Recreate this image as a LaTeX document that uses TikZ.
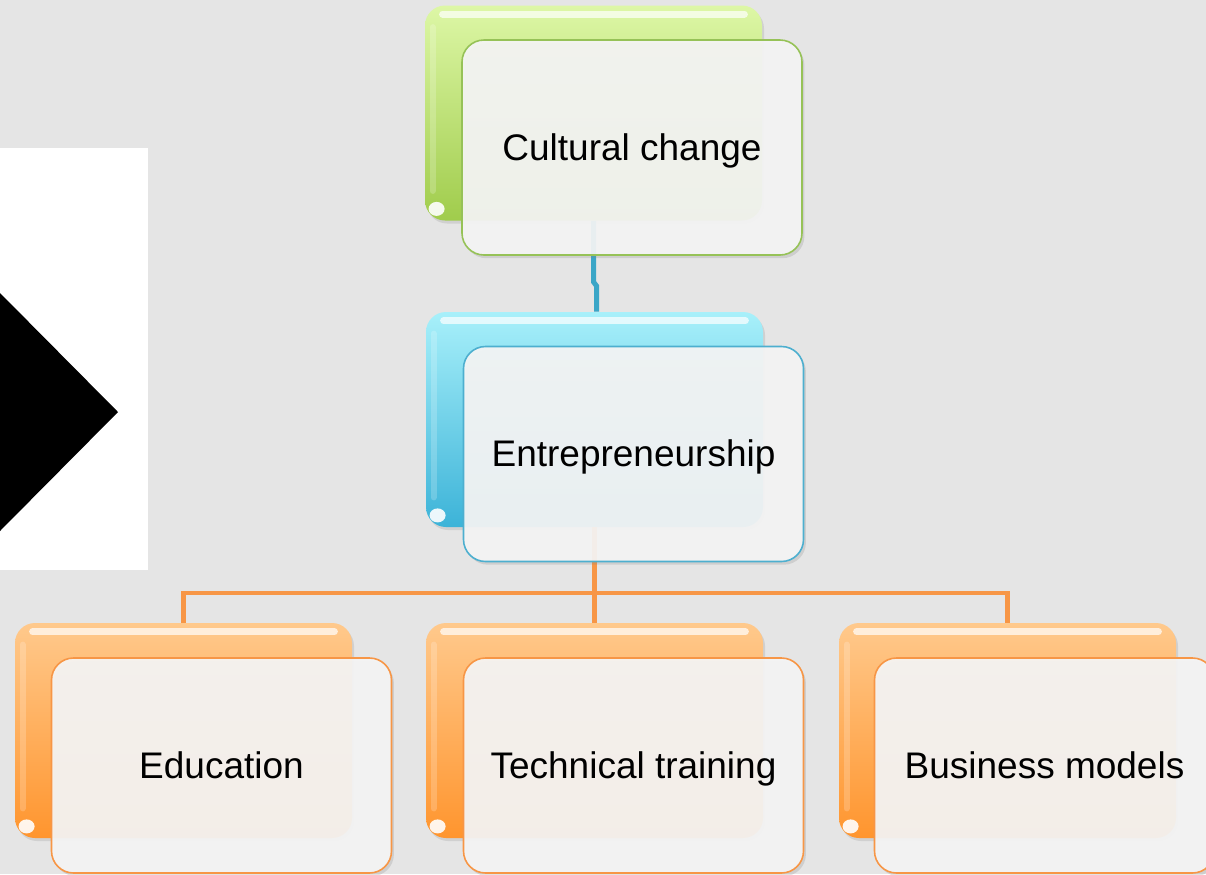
\documentclass[tikz,border=0pt]{standalone}
\usepackage{fontspec}
\setmainfont{Liberation Sans}
\usetikzlibrary{calc,shadows}
\definecolor{bgc}{HTML}{E5E5E5}
\definecolor{gtop}{HTML}{DDF7A6}
\definecolor{gbot}{HTML}{A0CC4C}
\definecolor{gedge}{HTML}{96C257}
\definecolor{btop}{HTML}{A8F0FA}
\definecolor{bbot}{HTML}{3CB3D8}
\definecolor{bedge}{HTML}{4DAFCF}
\definecolor{otop}{HTML}{FFC98C}
\definecolor{obot}{HTML}{FF952E}
\definecolor{oedge}{HTML}{F79646}
\definecolor{blueln}{HTML}{3AA6C7}
\definecolor{frontfill}{HTML}{F5F5F5}
\tikzset{
  backbox/.style={rectangle, rounded corners=10pt, minimum width=168.5pt, minimum height=107.5pt, inner sep=0pt,
     drop shadow={opacity=0.2, shadow xshift=1pt, shadow yshift=-1.5pt}},
  frontbox/.style={rectangle, rounded corners=11pt, minimum width=170pt, minimum height=107.5pt, inner sep=0pt,
     fill=frontfill, fill opacity=0.93, text opacity=1, line width=0.8pt,
     font=\fontsize{18.5pt}{22pt}\selectfont, text height=16.5pt, text depth=4pt,
     drop shadow={opacity=0.22, shadow xshift=1.2pt, shadow yshift=-1.6pt}},
  hl/.style={white, line width=3.5pt, line cap=round, opacity=0.7},
  hlv/.style={white, line width=3pt, line cap=round, opacity=0.2},
  orangeline/.style={oedge, line width=2.3pt},
  blueline/.style={blueln, line width=2.5pt},
}
\newcommand\mydeco[1]{%
  \draw[hl] ($(#1.north west)+(18,9)$) -- ($(#1.north east)+(-18,9)$);
  \draw[hlv] ($(#1.north west)+(8,22)$) -- ($(#1.south west)+(8,-30)$);
  \fill[white, opacity=0.9] ($(#1.south west)+(12,-12)$) ellipse (4pt and 3.5pt);
}
\begin{document}
\begin{tikzpicture}[x=0.5pt,y=-0.5pt]
\fill[bgc] (0,0) rectangle (1206,874);
\useasboundingbox (0,0) rectangle (1206,874);
% left picture fragment
\fill[white] (0,148) rectangle (148,570);
\fill[black] (0,293) -- (118,412) -- (0,531) -- cycle;
% back boxes
\node[backbox, top color=gtop, bottom color=gbot] (cultB) at (593.5,113) {};
\node[backbox, top color=btop, bottom color=bbot] (entB) at (594.5,419.5) {};
\node[backbox, top color=otop, bottom color=obot] (eduB) at (183.5,730.5) {};
\node[backbox, top color=otop, bottom color=obot] (techB) at (594.5,730.5) {};
\node[backbox, top color=otop, bottom color=obot] (busB) at (1007.5,730.5) {};
\mydeco{cultB}
\mydeco{entB}
\mydeco{eduB}
\mydeco{techB}
\mydeco{busB}
% connectors
\coordinate (bar) at (594.5,593);
\draw[blueline] (cultB.south) -- ++(0,61) -- ++(3,4) -- ($(entB.north)+(2,0)$);
\draw[orangeline] (entB.south) -- (bar) -- (techB.north);
\draw[orangeline] (eduB.north) |- (bar) -| (busB.north);
% front boxes
\node[frontbox, draw=gedge] (cult) at (632,147.5) {Cultural change};
\node[frontbox, draw=bedge] (ent) at (633.5,454) {Entrepreneurship};
\node[frontbox, draw=oedge] (edu) at (221.5,765.5) {Education};
\node[frontbox, draw=oedge] (tech) at (633.5,765.5) {Technical training};
\node[frontbox, draw=oedge] (bus) at (1044.5,765.5) {Business models};
\end{tikzpicture}
\end{document}
